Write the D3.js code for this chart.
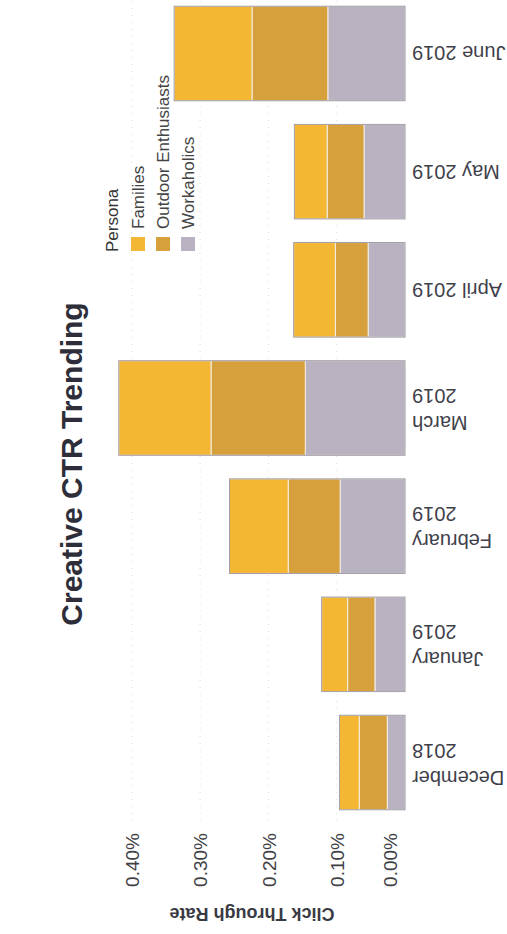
<!DOCTYPE html>
<html>
<head>
<meta charset="utf-8">
<script src="https://cdn.jsdelivr.net/npm/d3@7"></script>
<style>
  html, body { margin: 0; padding: 0; background: #fff; }
  svg { display: block; font-family: "Liberation Sans", Arial, sans-serif; }
</style>
</head>
<body>
<script>
// ---- data (CTR in percent) ----
const categories = ["December 2018", "January 2019", "February 2019", "March 2019", "April 2019", "May 2019", "June 2019"];
const personas = ["Families", "Outdoor Enthusiasts", "Workaholics"];
const families    = [0.029, 0.038, 0.086, 0.135, 0.061, 0.048, 0.114];
const outdoor     = [0.041, 0.040, 0.076, 0.138, 0.048, 0.054, 0.111];
const workaholics = [0.026, 0.044, 0.095, 0.146, 0.054, 0.060, 0.113];
const tickValues  = [0, 0.1, 0.2, 0.3, 0.4];
const colors = ["#f4b733", "#d6a03d", "#b9b3c1"];

const W = 507, H = 934;
const svg = d3.select("body").append("svg").attr("width", W).attr("height", H);
svg.append("rect").attr("width", W).attr("height", H).attr("fill", "#fff");

const x = d3.scaleLinear().domain([0, 0.4]).range([405, 131.8]);
const y = d3.scaleBand().domain(categories).range([821.6, -5.6]).paddingInner(0.2).paddingOuter(0.1);
const color = d3.scaleOrdinal().domain(personas).range(colors);

// faint dotted gridlines
svg.append("g").selectAll("line").data(tickValues.filter(t => t > 0)).join("line")
  .attr("x1", d => x(d)).attr("x2", d => x(d))
  .attr("y1", -6).attr("y2", 822)
  .attr("stroke", "#dcdcdc").attr("stroke-width", 1).attr("stroke-dasharray", "1,6");

// stacked bars (Workaholics at base)
const rows = categories.map((c, i) => ({
  cat: c, "Families": families[i], "Outdoor Enthusiasts": outdoor[i], "Workaholics": workaholics[i]
}));
const series = d3.stack().keys(["Workaholics", "Outdoor Enthusiasts", "Families"])(rows);

svg.append("g").selectAll("g").data(series).join("g")
  .attr("fill", s => color(s.key))
  .selectAll("rect").data(s => s).join("rect")
  .attr("x", d => x(d[1]))
  .attr("width", d => x(d[0]) - x(d[1]))
  .attr("y", d => y(d.data.cat))
  .attr("height", y.bandwidth())
  .attr("stroke", "#f4efe8").attr("stroke-width", 1);

// outline of each bar
svg.append("g").selectAll("rect").data(rows).join("rect")
  .attr("x", d => x(d.Families + d["Outdoor Enthusiasts"] + d.Workaholics))
  .attr("width", d => x(0) - x(d.Families + d["Outdoor Enthusiasts"] + d.Workaholics))
  .attr("y", d => y(d.cat)).attr("height", y.bandwidth())
  .attr("fill", "none").attr("stroke", "#9b97a3").attr("stroke-width", 0.9);

// value axis (labels rotated)
const axis = d3.axisTop(x).tickValues(tickValues).tickSize(0)
  .tickFormat(d => d3.format(".2f")(d) + "%");
const ag = svg.append("g").attr("transform", "translate(0,833)").call(axis);
ag.select(".domain").remove();
ag.selectAll("text")
  .attr("transform", "rotate(-90)")
  .attr("x", 0)
  .attr("y", d => Math.min(0, (x(0) - 15) - x(d)))
  .attr("dy", "0.35em")
  .attr("text-anchor", "end")
  .attr("font-size", 19)
  .attr("font-family", "Liberation Sans, Arial, sans-serif")
  .attr("fill", "#3f3f46");

// axis title (upside down)
svg.append("text")
  .attr("transform", "translate(252,914) rotate(180)")
  .attr("text-anchor", "middle").attr("dy", "0.35em")
  .attr("font-size", 18).attr("font-weight", "bold").attr("fill", "#3a3a44")
  .text("Click Through Rate");

// category labels (upside down, wrapped)
const measurer = svg.append("text").attr("font-size", 20).attr("visibility", "hidden");
function wrap(label, maxW) {
  measurer.text(label);
  if (measurer.node().getComputedTextLength() <= maxW) return [label];
  const i = label.lastIndexOf(" ");
  return [label.slice(0, i), label.slice(i + 1)];
}
const lineH = 27;
categories.forEach(c => {
  const lines = wrap(c, 95);
  const cy = y(c) + y.bandwidth() / 2 + (lines.length > 1 ? 1.5 : 0);
  lines.forEach((ln, i) => {
    const off = ((lines.length - 1) / 2 - i) * lineH;
    svg.append("text")
      .attr("transform", `translate(412,${cy + off}) rotate(180)`)
      .attr("text-anchor", "end").attr("dy", "0.35em")
      .attr("font-size", 20).attr("fill", "#3f3f4a")
      .text(ln);
  });
});
measurer.remove();

// title
svg.append("text")
  .attr("transform", "translate(82,464) rotate(-90)")
  .attr("text-anchor", "middle")
  .attr("font-size", 30).attr("font-weight", "bold").attr("fill", "#2e2e3a")
  .text("Creative CTR Trending");

// legend (kept clear of the bars)
svg.append("text")
  .attr("transform", "translate(112,252) rotate(-90)")
  .attr("dy", "0.35em").attr("font-size", 17).attr("fill", "#333")
  .text("Persona");
const lg = svg.append("g").selectAll("g").data(personas).join("g")
  .attr("transform", (d, i) => `translate(${138 + i * 25},0)`);
lg.append("rect")
  .attr("x", -7).attr("y", 237).attr("width", 14).attr("height", 14)
  .attr("fill", d => color(d));
lg.append("text")
  .attr("transform", "translate(0,229) rotate(-90)")
  .attr("dy", "0.35em").attr("font-size", 17).attr("fill", "#444")
  .text(d => d);
</script>
</body>
</html>
